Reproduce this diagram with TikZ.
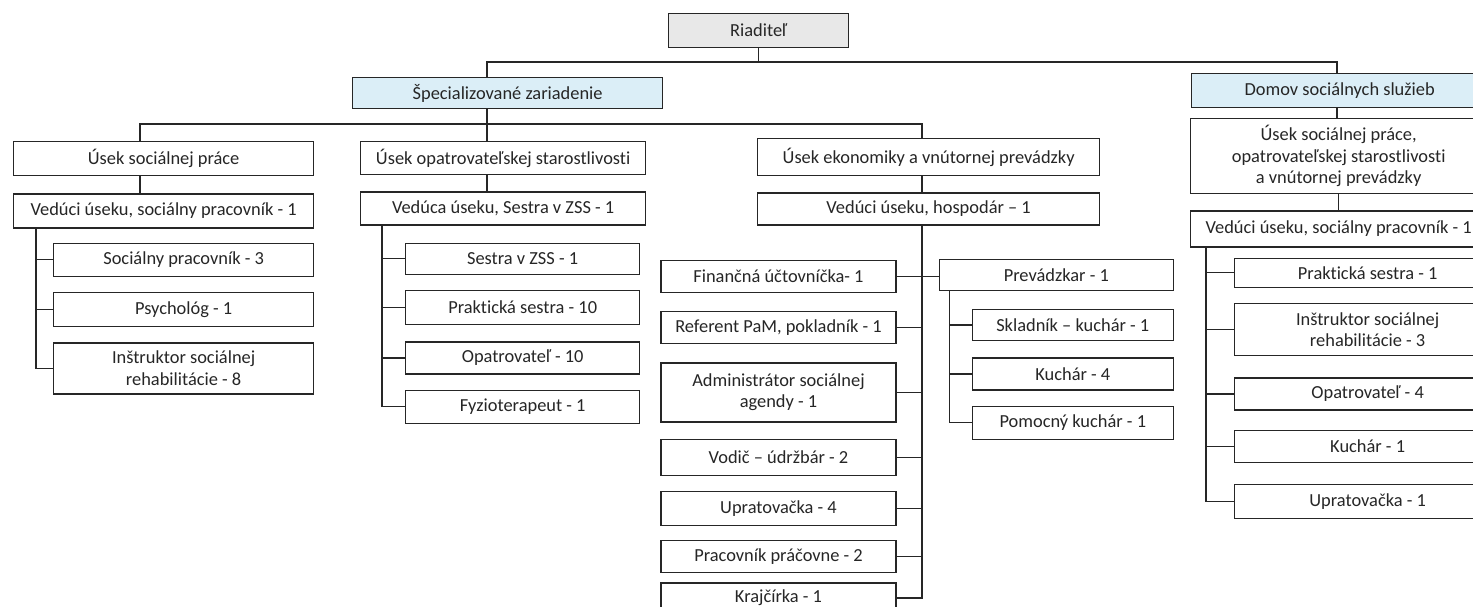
\documentclass[tikz,border=0pt]{standalone}
\usepackage{fontspec}
\setmainfont{Carlito}[Ligatures={NoCommon}]
\usepackage{tikz}
\usetikzlibrary{positioning}
\definecolor{headblue}{RGB}{219,238,247}
\definecolor{bossgray}{RGB}{232,232,232}
\tikzstyle{box} = [rectangle, draw=black!85, line width=1.3pt, inner sep=0pt, text centered, align=center, text=black!85, font=\fontsize{18.4}{21.5}\selectfont]
\tikzstyle{boss} = [box, fill=bossgray, minimum width=180pt, minimum height=34pt]
\tikzstyle{head} = [box, fill=headblue]
\tikzstyle{unit} = [box, fill=white, minimum height=32pt]
\tikzstyle{link} = [line width=1.3pt, draw=black!85]

\begin{document}
\begin{tikzpicture}[x=1pt, y=-1pt]
	\clip (0,0) rectangle (1473,606);

	\node (riad) [boss, anchor=north west] at (668,13) {Riaditeľ};
	\node (spec) [head, anchor=north west, minimum width=310pt, minimum height=31pt] at (352,77) {Špecializované zariadenie};
	\node (dom) [head, anchor=north west, minimum width=296pt, minimum height=34pt] at (1191,73) {Domov sociálnych služieb};

	\node (usp1) [unit, anchor=north west, minimum width=300pt, minimum height=34pt] at (13,141) {Úsek sociálnej práce};
	\node (ved1) [unit, below=17pt of usp1, minimum width=300pt, minimum height=34pt] {Vedúci úseku, sociálny pracovník - 1};
	\node (socp) [unit, below right=14pt and 40pt of ved1.south west, minimum width=260pt, minimum height=33pt] {Sociálny pracovník - 3};
	\node (psych) [unit, below=15pt of socp, minimum width=260pt, minimum height=34pt] {Psychológ - 1};
	\node (instr1) [unit, below=15pt of psych, minimum width=260pt, minimum height=51pt] {Inštruktor sociálnej\\ rehabilitácie - 8};

	\node (uos) [unit, anchor=north west, minimum width=285pt, minimum height=33pt] at (360,141) {Úsek opatrovateľskej starostlivosti};
	\node (ved2) [unit, below=16pt of uos, minimum width=285pt, minimum height=33pt] {Vedúca úseku, Sestra v ZSS - 1};
	\node (sestra) [unit, below right=17pt and 45pt of ved2.south west, minimum width=234pt, minimum height=31pt] {Sestra v ZSS - 1};
	\node (prakt) [unit, below=15pt of sestra, minimum width=234pt, minimum height=34pt] {Praktická sestra - 10};
	\node (opat) [unit, below=16pt of prakt, minimum width=234pt] {Opatrovateľ - 10};
	\node (fyzio) [unit, below=15pt of opat, minimum width=234pt, minimum height=33pt] {Fyzioterapeut - 1};

	\node (ueko) [unit, anchor=north west, minimum width=342pt, minimum height=37pt] at (757,138) {Úsek ekonomiky a vnútornej prevádzky};
	\node (ved3) [unit, below=16pt of ueko, minimum width=342pt] {Vedúci úseku, hospodár – 1};
	\node (fin) [unit, below left=34pt and 32pt of ved3.south, minimum width=235pt] {Finančná účtovníčka- 1};
	\node (ref) [unit, below=18pt of fin, minimum width=235pt] {Referent PaM, pokladník - 1};
	\node (adm) [unit, below=18pt of ref, minimum width=235pt, minimum height=59pt] {Administrátor sociálnej\\ agendy - 1};
	\node (vod) [unit, below=16pt of adm, minimum width=235pt, minimum height=36pt] {Vodič – údržbár - 2};
	\node (upr4) [unit, below=15pt of vod, minimum width=235pt, minimum height=34pt] {Upratovačka - 4};
	\node (prac) [unit, below=14pt of upr4, minimum width=235pt] {Pracovník práčovne - 2};
	\node (kraj) [unit, below=9pt of prac, minimum width=235pt, minimum height=30pt] {Krajčírka - 1};
	\node (prev) [unit, below right=33pt and 10pt of ved3.south, minimum width=234pt, minimum height=31pt] {Prevádzkar - 1};
	\node (skl) [unit, below right=18pt and 33pt of prev.south west, minimum width=201pt, minimum height=31pt] {Skladník – kuchár - 1};
	\node (kuch4) [unit, below=16pt of skl, minimum width=201pt] {Kuchár - 4};
	\node (pomk) [unit, below=15pt of kuch4, minimum width=201pt, minimum height=33pt] {Pomocný kuchár - 1};

	\node (u4) [unit, anchor=north west, minimum width=296pt, minimum height=75pt] at (1190,118) {Úsek sociálnej práce,\\ opatrovateľskej starostlivosti\\ a vnútornej prevádzky};
	\node (ved4) [unit, below=16pt of u4, minimum width=296pt, minimum height=36pt] {Vedúci úseku, sociálny pracovník - 1};
	\node (prs1) [unit, below right=10pt and 44pt of ved4.south west, minimum width=266pt, minimum height=29pt] {Praktická sestra - 1};
	\node (ins3) [unit, below=15pt of prs1, minimum width=266pt, minimum height=52pt] {Inštruktor sociálnej\\ rehabilitácie - 3};
	\node (op4) [unit, below=21pt of ins3, minimum width=266pt] {Opatrovateľ - 4};
	\node (kuch1) [unit, below=19pt of op4, minimum width=266pt] {Kuchár - 1};
	\node (upr1) [unit, below=21pt of kuch1, minimum width=266pt, minimum height=34pt] {Upratovačka - 1};

	\coordinate (t2) at (487,62);
	\coordinate (t4) at (1337,62);
	\coordinate (k1) at (140,124);
	\coordinate (k2) at (487,124);
	\coordinate (k3) at (922,124);
	\coordinate (b1) at ([xshift=23pt]ved1.south west);
	\coordinate (b2) at ([xshift=22pt]ved2.south west);
	\coordinate (b3) at ([xshift=11pt]prev.south west);
	\coordinate (b4) at ([xshift=16pt]ved4.south west);

	\draw [link] (riad) -- (riad |- t2);
	\draw [link] (spec.north -| t2) -- (t2) -- (t4) -- (dom.north -| t4);
	\draw [link] (spec.south -| k2) -- (k2);
	\draw [link] (usp1.north -| k1) -- (k1) -- (k3) -- (ueko.north -| k3);
	\draw [link] (k2) -- (uos.north -| k2);
	\draw [link] (dom.south -| t4) -- (u4.north -| t4);

	\draw [link] (usp1.south -| k1) -- (ved1.north -| k1);
	\draw [link] (b1) |- (instr1.west);
	\foreach \n in {socp, psych}
		\draw [link] (\n.west -| b1) -- (\n.west);

	\draw [link] (uos.south -| k2) -- (ved2.north -| k2);
	\draw [link] (b2) |- (fyzio.west);
	\foreach \n in {sestra, prakt, opat}
		\draw [link] (\n.west -| b2) -- (\n.west);

	\draw [link] (ueko.south -| k3) -- (ved3.north -| k3);
	\draw [link] (ved3.south -| k3) |- (kraj.east);
	\draw [link] (fin.east) -- (fin.east -| prev.west);
	\foreach \n in {ref, adm, vod, upr4, prac}
		\draw [link] (\n.east) -- (\n.east -| k3);
	\draw [link] (b3) |- (pomk.west);
	\foreach \n in {skl, kuch4}
		\draw [link] (\n.west -| b3) -- (\n.west);

	\draw [link] (u4) -- (ved4);
	\draw [link] (b4) |- (upr1.west);
	\foreach \n in {prs1, ins3, op4, kuch1}
		\draw [link] (\n.west -| b4) -- (\n.west);

\end{tikzpicture}
\end{document}
